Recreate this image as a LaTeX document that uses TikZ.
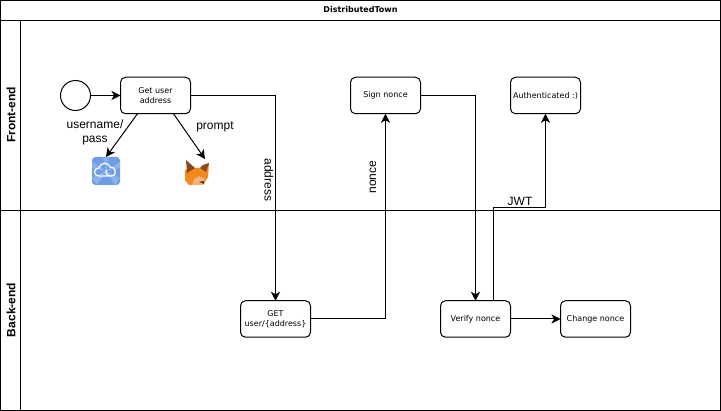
\documentclass[tikz,border=0pt]{standalone}
\usepackage{fontspec}
\setmainfont{Liberation Sans}
\newfontfamily\smallfont{DejaVu Sans}
\usepackage{xcolor}
\usetikzlibrary{arrows.meta, positioning}
\definecolor{cloudblue}{HTML}{6E9CE6}
\definecolor{foxorange}{HTML}{F08A1D}
\definecolor{foxdark}{HTML}{8A4A1C}
\definecolor{foxlight}{HTML}{F7B27A}

\begin{document}
\begin{tikzpicture}[
  x=1pt, y=-1pt,
  node distance=50pt and 50pt,
  box/.style={draw, line width=1pt, outer sep=0pt, rounded corners=5pt, align=center, minimum height=36.5pt, minimum width=70pt, font=\smallfont\fontsize{8}{10}\selectfont, inner sep=1pt},
  lane/.style={font=\bfseries\fontsize{12}{14}\selectfont, rotate=90},
  lbl/.style={font=\fontsize{12}{14}\selectfont, align=center},
  arr/.style={line width=1pt, -{Stealth[length=9pt,width=9pt,inset=2.5pt]}},
  icon/.style={minimum width=28pt, minimum height=28pt, inner sep=0pt, outer sep=0pt}
]
\useasboundingbox (0,0) rectangle (721,411);
\draw[line width=1pt] (0.5,0.5) rectangle (720.5,410.5);
\draw[line width=1pt] (0.5,20.5) -- (720.5,20.5);
\draw[line width=1pt] (20.5,20.5) -- (20.5,410.5);
\draw[line width=1pt] (0.5,210.5) -- (720.5,210.5);

\node[font=\smallfont\bfseries\fontsize{8}{10}\selectfont] (title) at (360.5,9.5) {DistributedTown};
\node[lane] (front) at (11,115) {Front-end};
\node[lane] (back) at (11,310) {Back-end};

\node[box] (getaddr) at (155.5,95.5) {Get user\\address};
\node[draw, line width=1pt, outer sep=0pt, circle, minimum size=30pt, inner sep=0pt, left=30pt of getaddr] (start) {};
\node[box, right=160pt of getaddr] (sign) {Sign nonce};
\node[box, right=90pt of sign] (auth) {Authenticated :)};
\node[box] (getuser) at (275.5,319) {GET\\user/\{address\}};
\node[box, right=130pt of getuser] (verify) {Verify nonce};
\node[box, right=50pt of verify] (change) {Change nonce};

% icons
\node[icon] (cloud) at (106,171) {};
\fill[cloudblue, rounded corners=3.5pt] (92,157) rectangle (120,185);
\fill[white, opacity=.22] (106,171) -- (92,162) -- (92,168) -- cycle
  (106,171) -- (120,162) -- (120,168) -- cycle
  (106,171) -- (92,178) -- (97,185) -- cycle
  (106,171) -- (120,178) -- (115,185) -- cycle
  (106,171) -- (103,157) -- (109,157) -- cycle;
\draw[white, line width=1.2pt, line cap=round]
  (111,176) -- (99,176) .. controls (93,176) and (93,168) .. (99,168)
  .. controls (100,162) and (109,162) .. (110,167)
  .. controls (116,166) and (118,176) .. (111,176)
  .. controls (107,176) and (104,172) .. (107,170);

\node[icon, minimum width=24pt, minimum height=26pt] (fox) at (197,172) {};
\fill[foxorange] (185,170) -- (185,180) -- (189,185) -- (203,185) -- (208,177) -- (209,163) -- (201,168) -- (192,168) -- cycle;
\fill[foxdark] (186,160) -- (195,168) -- (187,173) -- cycle;
\fill[foxdark] (209,163) -- (203,165) -- (200,168) -- (206,172) -- cycle;
\fill[foxlight] (194,179) -- (199,176) -- (205,179) -- (203,185) -- (192,185) -- cycle;
\fill[foxdark!70!black] (199,182) -- (204,181) -- (204,184) -- cycle;

\coordinate (bend) at (493.5,207.5);

\draw[arr] (start) -- (getaddr);
\draw[arr] ([xshift=-18pt]getaddr.south) -- (cloud.north);
\draw[arr] ([xshift=18pt]getaddr.south) -- ([xshift=8pt]fox.north);
\draw[arr] (getaddr) -| (getuser);
\draw[arr] (getuser) -| (sign);
\draw[arr] (sign) -| (verify);
\draw[arr] ([xshift=18pt]verify.north) -- (bend) -| (auth);
\draw[arr] (verify) -- (change);

\node[lbl] (userlbl) at (95,132) {username/\\pass};
\node[lbl] (promptlbl) at (215,127) {prompt};
\node[lbl, rotate=-90] (addrlbl) at (269,180) {address};
\node[lbl, rotate=90] (noncelbl) at (373,177) {nonce};
\node[lbl] (jwtlbl) at (520,201) {JWT};
\end{tikzpicture}
\end{document}
